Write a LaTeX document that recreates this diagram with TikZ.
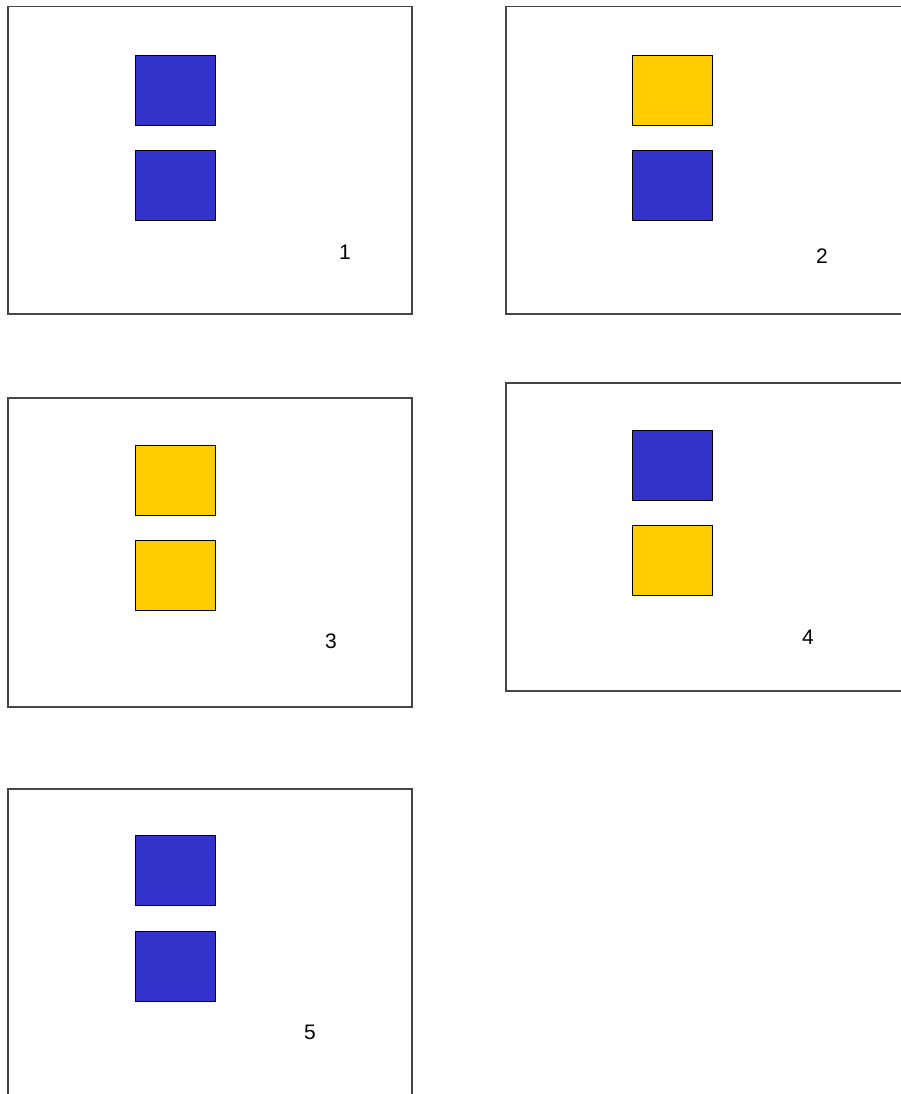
\documentclass[tikz,border=0pt]{standalone}
\usepackage{fontspec}
\setmainfont{Liberation Sans}
\usepackage{tikz}
\usetikzlibrary{positioning}
\definecolor{colBleu}{RGB}{51, 51, 204}
\definecolor{colJaune}{RGB}{255, 204, 0}
\definecolor{colCadre}{RGB}{70, 70, 70}

\begin{document}
\begin{tikzpicture}[
  x=1pt, y=-1pt,
  panel/.style={draw=colCadre, line width=1.5pt, fill=white, anchor=north west,
                minimum width=404pt, minimum height=#1, inner sep=0pt},
  panel/.default=307pt,
  carre/.style={draw=black, line width=1pt, fill=#1, anchor=north west,
                minimum width=80pt, minimum height=70pt, inner sep=0pt},
  numero/.style={font=\fontsize{21}{24}\selectfont, inner sep=0pt}
]
\useasboundingbox (0,0) rectangle (901,1094);
\clip (0,0) rectangle (901,1094);

% ---------- Cadre 1 ----------
\node[panel] (p1) at (7,6) {};
\node[carre=colBleu]  (c1h) at (135,55)  {};
\node[carre=colBleu]  (c1b) at (135,150) {};
\node[numero] (n1) at (345,252) {1};

% ---------- Cadre 2 ----------
\node[panel] (p2) at (505,6) {};
\node[carre=colJaune] (c2h) at (632,55)  {};
\node[carre=colBleu]  (c2b) at (632,150) {};
\node[numero] (n2) at (822,256) {2};

% ---------- Cadre 3 ----------
\node[panel=309pt] (p3) at (7,397) {};
\node[carre=colJaune] (c3h) at (135,445) {};
\node[carre=colJaune] (c3b) at (135,540) {};
\node[numero] (n3) at (331,641) {3};

% ---------- Cadre 4 ----------
\node[panel=308pt] (p4) at (505,382) {};
\node[carre=colBleu]  (c4h) at (632,430) {};
\node[carre=colJaune] (c4b) at (632,525) {};
\node[numero] (n4) at (808,637) {4};

% ---------- Cadre 5 ----------
\node[panel=320pt] (p5) at (7,788) {};
\node[carre=colBleu]  (c5h) at (135,835) {};
\node[carre=colBleu]  (c5b) at (135,931) {};
\node[numero] (n5) at (310,1032) {5};

\end{tikzpicture}
\end{document}
